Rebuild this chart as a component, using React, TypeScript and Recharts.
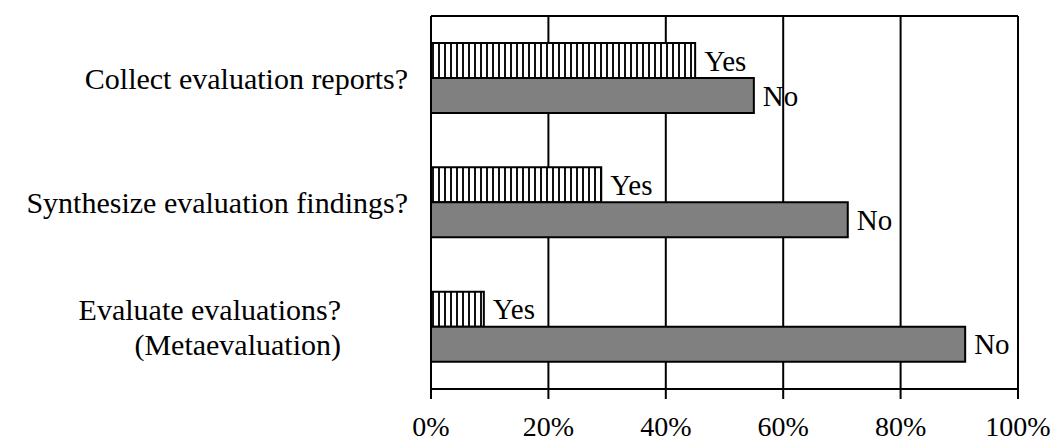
import React from "react";
import {
  BarChart,
  Bar,
  XAxis,
  YAxis,
  CartesianGrid,
  LabelList,
} from "recharts";

const categories = [
  "Collect evaluation reports?",
  "Synthesize evaluation findings?",
  "Evaluate evaluations?\n(Metaevaluation)",
];
const yesValues = [45, 29, 9];
const noValues = [55, 71, 91];
const xTicks = [0, 20, 40, 60, 80, 100];
const bandTicks = [0, 1, 2, 3];

const FONT = '"Liberation Serif", "Times New Roman", serif';
const FONT_SIZE = 28;

if (typeof document !== "undefined") {
  document.body.style.margin = "0";
}

const data = categories.map((name, i) => ({
  name,
  yes: yesValues[i],
  no: noValues[i],
}));

const CategoryTick = (props: any) => {
  const { x, y, payload } = props;
  const lines = String(payload.value).split("\n");
  // wrapped labels sit further left, like the original
  const tx = lines.length > 1 ? x - 67 : x;
  const lineH = 1.15;
  const first = 0.35 - ((lines.length - 1) * lineH) / 2;
  return (
    <text
      x={tx}
      y={y}
      textAnchor="end"
      fontFamily={FONT}
      fontSize={30}
      fill="#000"
    >
      {lines.map((line, i) => (
        <tspan key={i} x={tx} dy={`${i === 0 ? first : lineH}em`}>
          {line}
        </tspan>
      ))}
    </text>
  );
};

const App = () => {
  return (
    <div style={{ width: 1055, height: 443, background: "#fff" }}>
      <BarChart
        width={1055}
        height={443}
        data={data}
        layout="vertical"
        margin={{ top: 16, right: 37, bottom: 0, left: 0 }}
        barGap={0}
        barSize={35}
      >
        <CartesianGrid
          stroke="#000"
          strokeWidth={2}
          vertical
          horizontal
          horizontalCoordinatesGenerator={({ offset }: any) => [offset.top]}
        />
        <XAxis
          type="number"
          domain={[0, 100]}
          ticks={xTicks}
          tickFormatter={(v: number) => `${v}%`}
          height={54}
          tickSize={10}
          tickMargin={17}
          axisLine={{ stroke: "#000", strokeWidth: 2 }}
          tickLine={{ stroke: "#000", strokeWidth: 2 }}
          tick={{ fill: "#000", fontSize: FONT_SIZE, fontFamily: FONT }}
        />
        <YAxis
          yAxisId="bands"
          type="number"
          domain={[0, 3]}
          ticks={bandTicks}
          width={0}
          tickSize={10}
          tick={false}
          axisLine={{ stroke: "#000", strokeWidth: 2 }}
          tickLine={{ stroke: "#000", strokeWidth: 2 }}
        />
        <YAxis
          type="category"
          dataKey="name"
          width={431}
          tickSize={10}
          tickMargin={13}
          axisLine={false}
          tickLine={false}
          tick={<CategoryTick />}
        />
        <defs>
          <pattern
            id="vstripes"
            patternUnits="userSpaceOnUse"
            width={6}
            height={10}
          >
            <rect width={6} height={10} fill="#fff" />
            <rect x={0} width={2} height={10} fill="#111" />
          </pattern>
        </defs>
        <Bar
          dataKey="yes"
          fill="url(#vstripes)"
          stroke="#000"
          strokeWidth={2}
          isAnimationActive={false}
        >
          <LabelList
            dataKey="yes"
            position="right"
            offset={9}
            formatter={() => "Yes"}
            fill="#000"
            fontSize={29}
            fontFamily={FONT}
          />
        </Bar>
        <Bar
          dataKey="no"
          fill="#808080"
          stroke="#000"
          strokeWidth={2}
          isAnimationActive={false}
        >
          <LabelList
            dataKey="no"
            position="right"
            offset={9}
            formatter={() => "No"}
            fill="#000"
            fontSize={29}
            fontFamily={FONT}
          />
        </Bar>
      </BarChart>
    </div>
  );
};

export default App;
